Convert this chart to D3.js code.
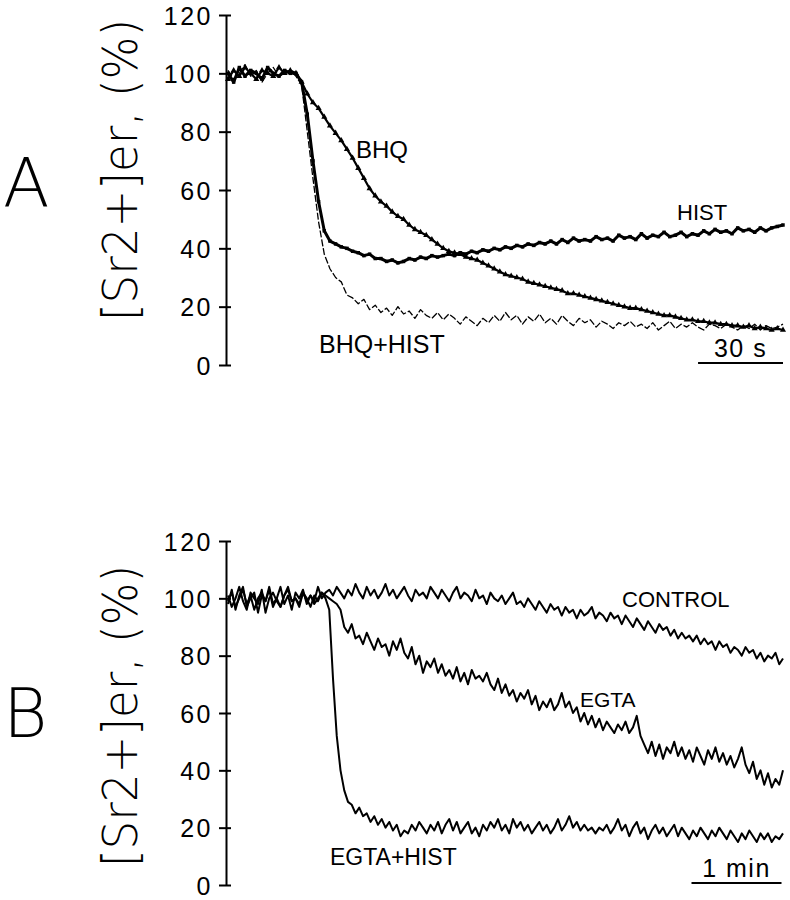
<!DOCTYPE html>
<html>
<head>
<meta charset="utf-8">
<script src="https://cdn.jsdelivr.net/npm/d3@7/dist/d3.min.js"></script>
<style>
  html, body { margin: 0; padding: 0; background: #fff; }
  svg { display: block; }
</style>
</head>
<body>
<svg id="chart" width="790" height="900"></svg>
<script>
// ---------------- DATA ----------------
const yTicks = [0, 20, 40, 60, 80, 100, 120];
const yLabel = "[Sr2+]er, (%)";

// Panel A: samples every 2 s (t = 0 .. 196 s)
const stepA = 2;
const bhq = [98,101,99,102,100,98,101,100,99,102,100,101,100,
  97,93,90,88,85,82,79.5,77,74,71,67.5,64,60.5,58,56,54.5,52.5,51,50,48,46.5,45.5,44.5,43,41.5,40,39,
  38.5,38,37,36.5,36,35,34,33,32,31,30.5,30,29.5,28.5,28,27.5,27,26.5,26,25.5,24.5,24.5,24,23.5,23,22.5,
  22,21.5,21,20.5,20,19.5,19.5,19,18.5,18,17.5,17,17,16.5,16,15.5,15.5,15,15,14.5,14.5,14,14,13.5,13.5,
  13,13.5,12.5,13,12.5,12,12.5,12];
const hist = [100,97,102,99,101,100,98,102,100,99,101,100,100,
  97,86,70,56,46,42.5,41.5,40.5,40,39,38.5,37.5,38,36.5,36.5,35.5,36,35,35.5,36.5,36,37,36.5,37.5,37,37.5,38,
  37.5,38.5,38,39,38.5,39.5,39,40,39.5,40.5,40,41,40.5,41.5,41,42,41.5,42.5,41.5,43,42,43.5,42.5,43,42.5,44,
  43,43.5,42.5,44.5,43.5,44,43,45,43.5,44.5,44,45.5,44,44.5,45.5,44,45,44.5,46,45,46.5,45.5,46,45,47,46,46.5,
  45.5,47,46,47,47.5,48];
const bhqHist = [101,98,100,103,99,101,97,100,102,99,100,101,99,
  96,80,64,49,38,33,30,28.5,24,23,21,22.5,19,20.5,18,19.5,17,20,17.5,18.5,16,19,17,16,18,15.5,17.5,
  16,14,16.5,15,13.5,16,14.5,17,15,18,15.5,17,14,16.5,15,17.5,14.5,16,14,17,15,13.5,16,14.5,15.5,13,
  15,14,12.5,14.5,13.5,15,13,14,12.5,14.5,12,13.5,15,12.5,14,13,14.5,13,12,14,13.5,12.5,14,13,12,13.5,
  12.5,14,12,13.5,12.5,13,14];

// Panel B: samples every 2.5 s (t = 0 .. 370 s)
const stepB = 2.5;
const control = [98,103,96,101,104,97,100,102,95,101,99,103,97,100,104,98,101,96,102,100,103,98,101,99,104,100,102,
  103,101,104,102,100,103,101,105,102,100,104,101,103,100,102,105,101,103,100,102,104,101,99,103,101,102,100,104,
  102,100,103,101,99,102,104,100,102,101,99,103,100,101,98,102,100,99,101,98,100,102,98,99,97,100,98,96,99,97,95,
  98,96,97,94,97,95,96,93,96,94,95,97,93,95,94,92,95,93,94,91,94,92,90,93,91,89,92,90,88,91,89,90,87,89,86,88,86,
  87,85,87,84,86,84,85,82,85,83,84,81,83,82,80,83,81,82,79,81,78,80,79,81,77,79];
const egta = [101,97,100,104,99,96,102,100,98,103,95,100,102,99,97,101,104,99,100,97,102,99,101,98,100,102,101,
  100,99,98,96,90,88,91,86,87,84,88,85,82,86,83,84,80,85,82,86,81,79,83,77,80,74,78,76,79,74,77,73,75,72,76,71,74,
  70,75,72,73,71,74,70,68,72,67,70,66,68,64,67,65,68,63,66,61,64,62,65,61,63,67,62,64,60,62,57,60,56,59,55,58,54,
  57,55,53,56,54,57,53,55,59,52,49,46,50,45,49,44,48,46,50,45,48,44,47,43,48,45,42,47,44,48,43,46,42,45,41,44,48,
  42,39,43,37,40,35,39,34,37,35,40];
const egtaHist = [99,102,97,100,103,98,101,96,100,102,99,104,98,100,97,101,103,99,100,98,102,100,97,101,99,102,
  100,96,72,52,40,33,29,28,25,27,24,25,22,24,21,23,20,22,19,21,17,19,18,21,19,22,20,18,21,19,22,18,21,23,19,22,
  18,20,22,18,20,17,21,19,22,20,23,19,21,18,23,20,22,19,21,18,20,22,19,21,18,20,23,19,21,24,20,22,19,21,19,20,18,
  20,19,21,18,20,23,19,21,17,20,22,18,20,16,19,21,18,20,17,19,21,17,20,18,16,19,17,20,18,16,19,17,20,18,16,19,17,
  15,18,16,19,17,15,18,16,18,15,17,16,18];

// ---------------- DRAW ----------------
const svg = d3.select("#chart");
svg.append("rect").attr("width", 790).attr("height", 900).attr("fill", "#fff");

const tickFont = "'Liberation Sans', Arial, Helvetica, sans-serif";
const thinFont = "'DejaVu Sans', 'Liberation Sans', sans-serif";

function panel(cfg) {
  const x = d3.scaleLinear().domain(cfg.xDomain).range([228, 783]);
  const y = d3.scaleLinear().domain([0, 120]).range(cfg.yRange);
  const g = svg.append("g");

  // y axis
  const axis = d3.axisLeft(y).tickValues(yTicks).tickSize(7).tickSizeOuter(0).tickPadding(6);
  const ag = g.append("g").attr("transform", "translate(226,0)").call(axis);
  ag.select(".domain").attr("stroke", "#000").attr("stroke-width", 2);
  ag.selectAll(".tick line").attr("x1", 5).attr("stroke", "#000").attr("stroke-width", 2);
  ag.selectAll(".tick text")
    .attr("font-family", tickFont).attr("font-size", 25).attr("fill", "#000")
    .attr("letter-spacing", "2.5px").attr("dy", "0.36em");

  // y label
  g.append("text")
    .attr("transform", `translate(137,${cfg.labelCenter}) rotate(-90)`)
    .attr("text-anchor", "middle")
    .attr("font-family", thinFont).attr("font-weight", 200)
    .attr("font-size", 48)
    .attr("textLength", 302).attr("lengthAdjust", "spacingAndGlyphs")
    .text(yLabel);

  // panel letter
  g.append("text")
    .attr("x", 3).attr("y", cfg.letterY)
    .attr("font-family", thinFont).attr("font-weight", 200)
    .attr("font-size", 68)
    .text(cfg.letter);

  // series
  cfg.series.forEach(s => {
    const pts = s.values.map((v, i) => [i * cfg.step, v]);
    const line = d3.line().x(d => x(d[0])).y(d => y(d[1]));
    const p = g.append("path").datum(pts)
      .attr("d", line).attr("fill", "none").attr("stroke", "#000")
      .attr("stroke-width", s.width).attr("stroke-linejoin", "round");
    if (s.dash) p.attr("stroke-dasharray", s.dash);
    if (s.marker) {
      const sym = d3.symbol().type(s.marker).size(s.markerSize);
      g.append("g").selectAll("path").data(pts).join("path")
        .attr("transform", d => `translate(${x(d[0])},${y(d[1])})`)
        .attr("d", sym).attr("fill", "#000");
    }
  });

  // series labels
  cfg.labels.forEach(l => {
    g.append("text").attr("x", l.x).attr("y", l.y)
      .attr("font-family", tickFont).attr("font-size", l.size)
      .attr("fill", "#000").text(l.text);
  });

  // time scale bar
  const by = y(0) - 2;
  g.append("line").attr("x1", x(cfg.bar[0])).attr("x2", x(cfg.bar[1]))
    .attr("y1", by).attr("y2", by).attr("stroke", "#000").attr("stroke-width", 2);
  g.append("text").attr("x", (x(cfg.bar[0]) + x(cfg.bar[1])) / 2).attr("y", by - 6)
    .attr("text-anchor", "middle").attr("font-family", tickFont).attr("font-size", 25)
    .attr("letter-spacing", "1.5px").text(cfg.barLabel);
}

panel({
  xDomain: [0, 196], yRange: [365, 15], step: stepA,
  labelCenter: 170, letter: "A", letterY: 207,
  series: [
    { values: bhqHist, width: 1.3, dash: "7,2" },
    { values: bhq, width: 2.2, marker: d3.symbolTriangle, markerSize: 16 },
    { values: hist, width: 3, marker: d3.symbolSquare, markerSize: 12 }
  ],
  labels: [
    { text: "BHQ", x: 356, y: 158, size: 24 },
    { text: "HIST", x: 677, y: 220, size: 22 },
    { text: "BHQ+HIST", x: 319, y: 353, size: 25 }
  ],
  bar: [166, 196], barLabel: "30 s"
});

panel({
  xDomain: [0, 370], yRange: [885, 541], step: stepB,
  labelCenter: 716, letter: "B", letterY: 737,
  series: [
    { values: control, width: 2 },
    { values: egta, width: 2 },
    { values: egtaHist, width: 2 }
  ],
  labels: [
    { text: "CONTROL", x: 622, y: 607, size: 22 },
    { text: "EGTA", x: 580, y: 707, size: 21 },
    { text: "EGTA+HIST", x: 330, y: 865, size: 23 }
  ],
  bar: [309, 369], barLabel: "1 min"
});
</script>
</body>
</html>
